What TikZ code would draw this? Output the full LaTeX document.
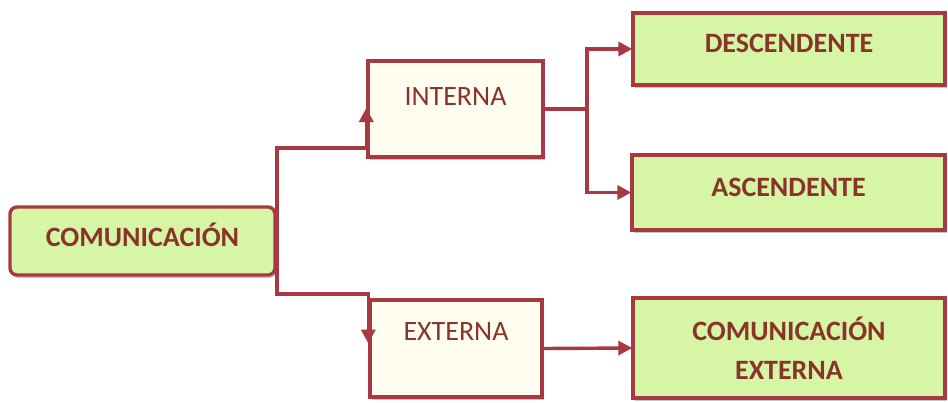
\documentclass[tikz,border=0pt]{standalone}
\usepackage{fontspec}
\setmainfont{Carlito}
\usetikzlibrary{arrows.meta,shadows}
\definecolor{bordercol}{RGB}{168,56,66}
\definecolor{txtcol}{RGB}{137,52,42}
\definecolor{greenfill}{RGB}{214,245,165}
\definecolor{creamfill}{RGB}{255,253,240}
\tikzset{
  basebox/.style={draw=bordercol, line width=3.4pt, inner sep=0pt, text=txtcol,
    drop shadow={shadow xshift=1.5pt, shadow yshift=-3pt, fill=black!45, opacity=0.5}},
  greenbox/.style={basebox, fill=greenfill, font=\fontsize{28}{39}\selectfont\bfseries, align=center},
  creambox/.style={basebox, fill=creamfill, font=\fontsize{28}{34}\selectfont},
  conn/.style={draw=bordercol, line width=3.4pt},
  arrowconn/.style={conn, -{Triangle[length=14pt,width=14pt]}, shorten >=-1pt}
}
\begin{document}
\begin{tikzpicture}[x=1pt,y=1pt]
\useasboundingbox[fill=white] (0,0) rectangle (948,-402);

\node[greenbox, rounded corners=7pt, minimum width=265pt, minimum height=68pt,
      text height=19pt, text depth=9pt] (com) at (142.5,-241) {COMUNICACIÓN};
\node[creambox, minimum width=175pt, minimum height=96pt,
      text height=20pt, text depth=27pt] (int) at (455.5,-109) {INTERNA};
\node[creambox, minimum width=172pt, minimum height=97pt,
      text height=20pt, text depth=37pt] (ext) at (456,-348.5) {EXTERNA};
\node[greenbox, minimum width=312pt, minimum height=72pt,
      text height=18pt, text depth=11pt] (desc) at (789,-49) {DESCENDENTE};
\node[greenbox, minimum width=313pt, minimum height=75pt,
      text height=18pt, text depth=11pt] (asc) at (788.5,-192.5) {ASCENDENTE};
\node[greenbox, minimum width=312pt, minimum height=100pt] (cext) at (789,-348) {COMUNICACIÓN\\EXTERNA};

\coordinate (ju) at (277,-148);
\coordinate (jd) at (277,-294);
\coordinate (jr) at (587,-109);

\draw[arrowconn] (com.east) -| (ju) -- (ju -| int.west) -- (int.west);
\draw[arrowconn] (com.east) -| (jd) -- (jd -| ext.west) -- ([yshift=6pt]ext.west);
\draw[conn] (int.east) -- (jr);
\draw[arrowconn] (jr) |- (desc.west);
\draw[arrowconn] (jr) |- (asc.west);
\draw[arrowconn] (ext.east) -- (cext.west);
\end{tikzpicture}
\end{document}
